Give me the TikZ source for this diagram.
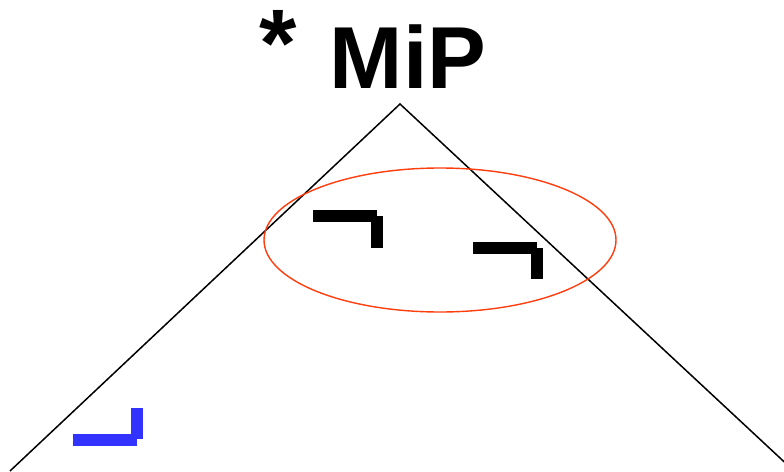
\documentclass[tikz,border=0pt]{standalone}
\usepackage{fontspec}
\setmainfont{Liberation Sans}
\definecolor{rojizo}{HTML}{FF3D0D}
\definecolor{azulado}{HTML}{3333FF}
\begin{document}
\begin{tikzpicture}[
    x=1pt,
    y=-1pt,
    arista/.style={black,line width=1.5pt},
    foco/.style={rojizo,line width=1.4pt},
    gancho/.style={fill=black,draw=none},
    huella/.style={fill=azulado,draw=none},
    rotulo/.style={anchor=base,inner sep=0pt,font=\fontsize{88}{88}\selectfont\bfseries}
]
    \useasboundingbox (0,0) rectangle (784,471);
    % Titulo
    \node[rotulo,font=\fontsize{96}{96}\selectfont\bfseries] (asterisco) at (278,76) {*};
    \node[rotulo] (titulo) at (408,88) {MiP};
    % Triangulo
    \coordinate (cima) at (400,104);
    \begin{scope}
        \clip (0,0) rectangle (784,471);
        \draw[arista] (10,471) -- (cima) -- (794,471);
    \end{scope}
    % Region marcada
    \draw[foco] (440,240) ellipse [x radius=176, y radius=72];
    \path[gancho] (313,210) rectangle (377,222);
    \path[gancho] (371,216) rectangle (383,248);
    \path[gancho] (473,242) rectangle (537,254);
    \path[gancho] (531,248) rectangle (543,279);
    % Posicion de origen
    \path[huella] (73,434) rectangle (137,446);
    \path[huella] (131,408) rectangle (143,439);
\end{tikzpicture}
\end{document}
